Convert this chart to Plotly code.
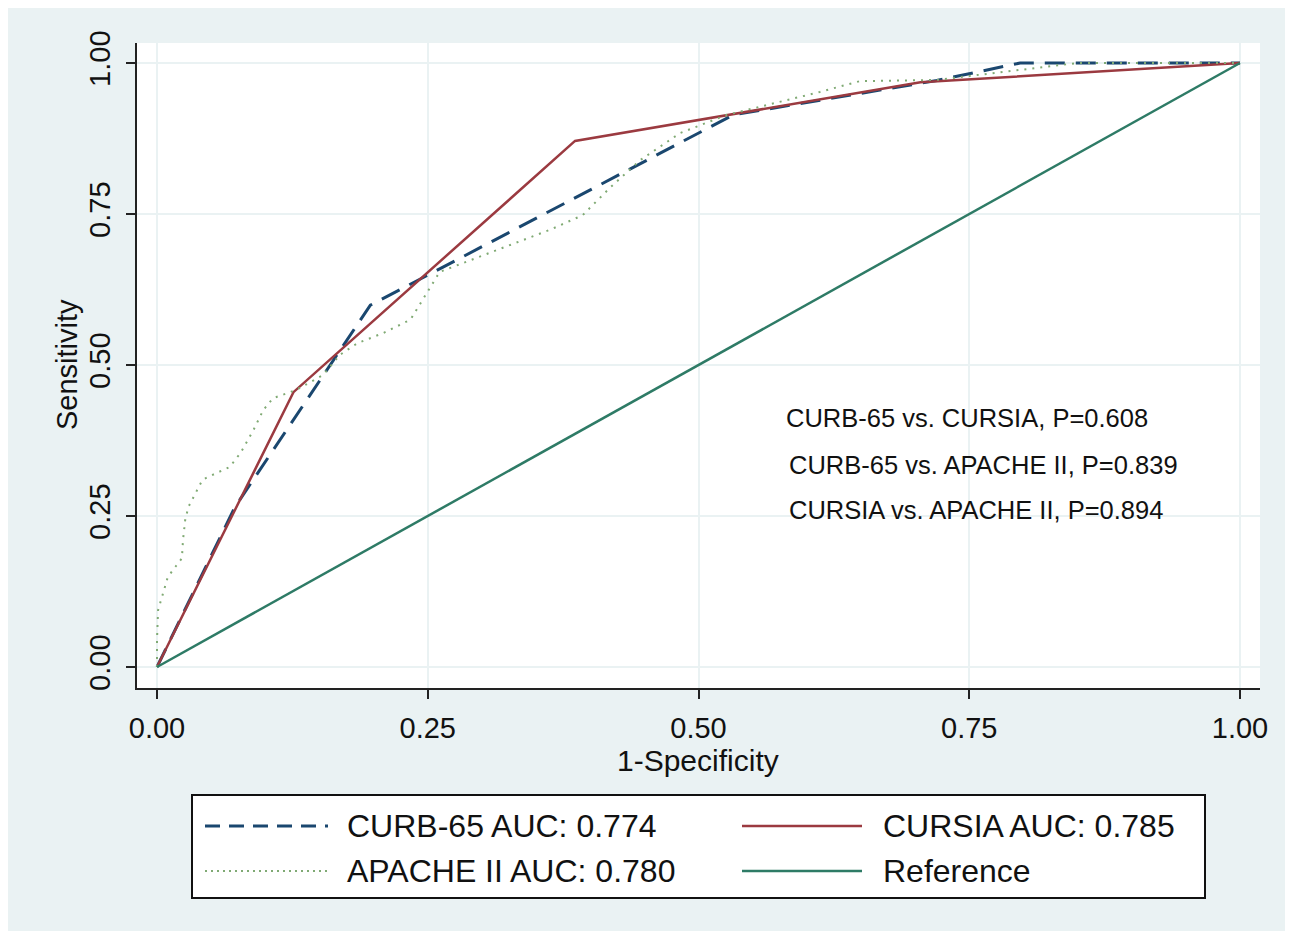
import plotly.graph_objects as go

# ---------------- data ----------------
curb_x = [0, 0.072, 0.197, 0.532, 0.72, 0.797, 1.0]
curb_y = [0, 0.265, 0.599, 0.914, 0.971, 1.0, 1.0]

cursia_x = [0, 0.126, 0.386, 0.705, 1.0]
cursia_y = [0, 0.455, 0.871, 0.968, 1.0]

apache_x = [0, 0, 0.001, 0.006, 0.01, 0.017, 0.023, 0.024, 0.026, 0.029,
            0.032, 0.042, 0.05, 0.067, 0.077, 0.089, 0.098, 0.107, 0.123, 0.132,
            0.153, 0.169, 0.185, 0.209, 0.234, 0.261, 0.363, 0.393, 0.418, 0.446,
            0.483, 0.526, 0.612, 0.649, 0.72, 0.78, 0.85, 1.0]
apache_y = [0, 0.045, 0.094, 0.127, 0.149, 0.166, 0.18, 0.21, 0.243, 0.265,
            0.276, 0.31, 0.317, 0.331, 0.354, 0.392, 0.425, 0.445, 0.455, 0.462,
            0.483, 0.517, 0.536, 0.553, 0.575, 0.654, 0.724, 0.748, 0.793, 0.839,
            0.884, 0.914, 0.952, 0.970, 0.972, 0.985, 1.0, 1.0]

ref_x = [0, 1]
ref_y = [0, 1]

tick_vals = [0, 0.25, 0.5, 0.75, 1.0]
tick_text = ["0.00", "0.25", "0.50", "0.75", "1.00"]

legend_labels = ["CURB-65 AUC: 0.774", "CURSIA AUC: 0.785",
                 "APACHE II AUC: 0.780", "Reference"]
pvalue_texts = ["CURB-65 vs. CURSIA, P=0.608",
                "CURB-65 vs. APACHE II, P=0.839",
                "CURSIA vs. APACHE II, P=0.894"]

# ---------------- style ----------------
OFF = 8                                   # page body margin
W, H = 1277, 923                          # figure size
L, R, T, B = 137, 1260, 43, 688           # plot area in page pixels
FONT = "Liberation Sans, Arial, sans-serif"
C_CURB = "#1a476f"
C_CURSIA = "#9b3a40"
C_APACHE = "#80aa74"
C_REF = "#2e7b66"
BG = "#eaf2f3"

def px(xp):
    return (xp - L) / (R - L)

def py(yp):
    return (B - yp) / (B - T)

fig = go.Figure()
fig.add_trace(go.Scatter(x=curb_x, y=curb_y, mode="lines", name=legend_labels[0],
                         line=dict(color=C_CURB, width=3, dash="20px,11px")))
fig.add_trace(go.Scatter(x=cursia_x, y=cursia_y, mode="lines", name=legend_labels[1],
                         line=dict(color=C_CURSIA, width=2.5)))
fig.add_trace(go.Scatter(x=apache_x, y=apache_y, mode="lines", name=legend_labels[2],
                         line=dict(color=C_APACHE, width=2, dash="2px,6px")))
fig.add_trace(go.Scatter(x=ref_x, y=ref_y, mode="lines", name=legend_labels[3],
                         line=dict(color=C_REF, width=2.5)))

axis_common = dict(
    tickvals=tick_vals, ticktext=tick_text,
    showgrid=True, gridcolor=BG, gridwidth=2,
    zeroline=False, showline=True, linecolor="#222222", linewidth=1.5,
    ticks="outside", ticklen=9, tickwidth=1.5, tickcolor="#222222",
    tickfont=dict(family=FONT, size=29, color="#111111"),
)

fig.update_xaxes(range=[-20 / 1083, 1 + 20 / 1083], ticklabelstandoff=4, **axis_common)
fig.update_yaxes(range=[-21 / 604, 1 + 20 / 604], tickangle=-90, ticklabelstandoff=5,
                 **axis_common)

shapes = []
# legend box
shapes.append(dict(type="rect", xref="paper", yref="paper",
                   x0=px(192), x1=px(1205), y0=py(898), y1=py(795),
                   line=dict(color="#111111", width=2), fillcolor="white"))
# legend symbols
sym = [
    (205, 328, 826, C_CURB, 3, "15px,9px"),
    (742, 862, 826, C_CURSIA, 2.5, "solid"),
    (205, 328, 871, C_APACHE, 2, "2px,4px"),
    (742, 862, 871, C_REF, 2.5, "solid"),
]
for x0, x1, yy, c, w, d in sym:
    shapes.append(dict(type="line", xref="paper", yref="paper",
                       x0=px(x0), x1=px(x1), y0=py(yy), y1=py(yy),
                       line=dict(color=c, width=w, dash=d)))

annotations = []
text_pos = [(345, 826), (881, 826), (345, 871), (881, 871)]
for (tx, ty), lab in zip(text_pos, legend_labels):
    annotations.append(dict(xref="paper", yref="paper", x=px(tx), y=py(ty),
                            xanchor="left", yanchor="middle", showarrow=False,
                            text=lab, font=dict(family=FONT, size=32, color="#111111")))

p_pos = [(0.579, 0.412), (0.582, 0.334), (0.582, 0.26)]
for (ax, ay), t in zip(p_pos, pvalue_texts):
    annotations.append(dict(xref="x", yref="y", x=ax, y=ay, xanchor="left",
                            yanchor="middle", showarrow=False, text=t,
                            font=dict(family=FONT, size=25.5, color="#111111")))

# axis titles
annotations.append(dict(xref="paper", yref="paper", x=px(698), y=py(760),
                        xanchor="center", yanchor="middle", showarrow=False,
                        text="1-Specificity", font=dict(family=FONT, size=30, color="#111111")))
annotations.append(dict(xref="paper", yref="paper", x=px(67), y=py(365),
                        xanchor="center", yanchor="middle", showarrow=False, textangle=-90,
                        text="Sensitivity", font=dict(family=FONT, size=29, color="#111111")))

fig.update_layout(
    width=W, height=H,
    margin=dict(l=L - OFF, r=(W + OFF) - R, t=T - OFF, b=(H + OFF) - B, pad=0),
    paper_bgcolor=BG, plot_bgcolor="white",
    showlegend=False,
    shapes=shapes, annotations=annotations,
    font=dict(family=FONT),
)

fig.write_html("out.html")
